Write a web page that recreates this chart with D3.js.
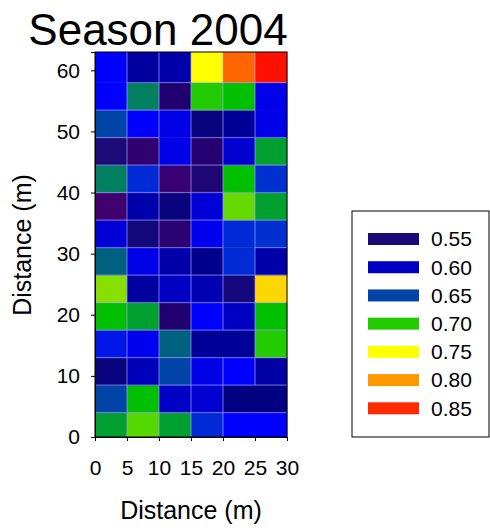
<!DOCTYPE html>
<html>
<head>
<meta charset="utf-8">
<script src="https://cdn.jsdelivr.net/npm/d3@7"></script>
<style>
  html, body { margin: 0; padding: 0; background: #fff; }
  svg { display: block; font-family: "Liberation Sans", Arial, sans-serif; }
</style>
</head>
<body>
<svg id="chart" width="490" height="530"></svg>
<script>
// ---- data ----
const title = "Season 2004";
const xLabel = "Distance (m)";
const yLabel = "Distance (m)";
const colEdges = [0, 5, 10, 15, 20, 25, 30];
const rowEdges = [0, 4, 8.5, 13, 17.5, 22, 26.5, 31, 35.5, 40, 44.5, 49, 53.5, 58, 63];
const xTicks = [0, 5, 10, 15, 20, 25, 30];
const yTicks = [0, 10, 20, 30, 40, 50, 60];
// cell values, one array per row, bottom row first, columns left to right
const row0  = [0.685, 0.715, 0.685, 0.638, 0.625, 0.625];
const row1  = [0.650, 0.695, 0.600, 0.605, 0.565, 0.565];
const row2  = [0.560, 0.595, 0.650, 0.615, 0.625, 0.582];
const row3  = [0.632, 0.618, 0.665, 0.575, 0.575, 0.700];
const row4  = [0.695, 0.685, 0.545, 0.625, 0.600, 0.695];
const row5  = [0.725, 0.580, 0.600, 0.590, 0.555, 0.770];
const row6  = [0.665, 0.615, 0.585, 0.570, 0.638, 0.585];
const row7  = [0.608, 0.555, 0.535, 0.618, 0.638, 0.640];
const row8  = [0.510, 0.585, 0.560, 0.608, 0.718, 0.685];
const row9  = [0.675, 0.638, 0.520, 0.548, 0.695, 0.640];
const row10 = [0.550, 0.530, 0.615, 0.540, 0.605, 0.685];
const row11 = [0.650, 0.625, 0.615, 0.560, 0.575, 0.615];
const row12 = [0.625, 0.675, 0.545, 0.700, 0.695, 0.615];
const row13 = [0.625, 0.580, 0.585, 0.750, 0.820, 0.870];
const rows = [row0, row1, row2, row3, row4, row5, row6, row7, row8, row9, row10, row11, row12, row13];
const legendValues = [0.55, 0.60, 0.65, 0.70, 0.75, 0.80, 0.85];
const legendLabels = ["0.55", "0.60", "0.65", "0.70", "0.75", "0.80", "0.85"];
// colour map stops
const colorStops = [0.51, 0.53, 0.545, 0.55, 0.565, 0.575, 0.60, 0.615, 0.625, 0.64, 0.65, 0.665, 0.675, 0.685, 0.695, 0.70, 0.715, 0.725, 0.75, 0.77, 0.80, 0.82, 0.85, 0.87];
const colorRange = ["#400070", "#300070", "#200070", "#1c0a78", "#000080", "#000098", "#0000c4", "#0000e8", "#0000ff", "#0030d0", "#0044a8", "#006080", "#008060", "#00a030", "#00c000", "#22cc00", "#55d800", "#88e000", "#ffff00", "#ffd700", "#ff9900", "#ff6600", "#ff2a00", "#ff1100"];

// ---- chart ----
const svg = d3.select("#chart");
const x = d3.scaleLinear().domain([0, 30]).range([95, 287]);
const y = d3.scaleLinear().domain([0, 63]).range([437, 52]);
const color = d3.scaleLinear().domain(colorStops).range(colorRange).clamp(true);

// cells
const cells = [];
rows.forEach((r, ri) => r.forEach((v, ci) => cells.push({ri, ci, v})));
svg.append("g").selectAll("rect").data(cells).join("rect")
  .attr("x", d => x(colEdges[d.ci]))
  .attr("y", d => y(rowEdges[d.ri + 1]))
  .attr("width", d => x(colEdges[d.ci + 1]) - x(colEdges[d.ci]) + 0.3)
  .attr("height", d => y(rowEdges[d.ri]) - y(rowEdges[d.ri + 1]) + 0.3)
  .attr("fill", d => color(d.v));

// borders between cells with different values
const segs = [];
rows.forEach((r, ri) => r.forEach((v, ci) => {
  if (ci < r.length - 1 && r[ci + 1] !== v)
    segs.push({x1: colEdges[ci + 1], x2: colEdges[ci + 1], y1: rowEdges[ri], y2: rowEdges[ri + 1]});
  if (ri < rows.length - 1 && rows[ri + 1][ci] !== v)
    segs.push({x1: colEdges[ci], x2: colEdges[ci + 1], y1: rowEdges[ri + 1], y2: rowEdges[ri + 1]});
}));
svg.append("g").selectAll("line").data(segs).join("line")
  .attr("x1", d => x(d.x1)).attr("x2", d => x(d.x2))
  .attr("y1", d => y(d.y1)).attr("y2", d => y(d.y2))
  .attr("stroke", "rgba(160,160,255,0.55)")
  .attr("stroke-width", 1.3);

// frame
svg.append("rect")
  .attr("x", x(0)).attr("y", y(63))
  .attr("width", x(30) - x(0)).attr("height", y(0) - y(63))
  .attr("fill", "none").attr("stroke", "#000").attr("stroke-width", 1);

// axes
const xAxis = svg.append("g").attr("transform", `translate(0,${y(0)})`)
  .call(d3.axisBottom(x).tickValues(xTicks).tickSize(4).tickPadding(19));
const yAxis = svg.append("g").attr("transform", `translate(${x(0)},0)`)
  .call(d3.axisLeft(y).tickValues(yTicks).tickSize(4).tickPadding(11));
[xAxis, yAxis].forEach(g => {
  g.selectAll("text").attr("font-size", 21).attr("font-family", "Liberation Sans, Arial, sans-serif").attr("fill", "#000");
  g.selectAll("line, path").attr("stroke", "#000");
});

// title and labels
svg.append("text").attr("x", 158).attr("y", 45)
  .attr("text-anchor", "middle").attr("font-size", 44).attr("fill", "#000").text(title);
svg.append("text").attr("x", 191).attr("y", 519)
  .attr("text-anchor", "middle").attr("font-size", 25).attr("fill", "#000").text(xLabel);
svg.append("text").attr("transform", "translate(31,245) rotate(-90)")
  .attr("text-anchor", "middle").attr("font-size", 25).attr("fill", "#000").text(yLabel);

// legend
const lg = svg.append("g");
lg.append("rect").attr("x", 352).attr("y", 211).attr("width", 137).attr("height", 226)
  .attr("fill", "#fff").attr("stroke", "#000").attr("stroke-width", 1);
const ly = d3.scalePoint().domain(legendLabels).range([239, 408.3]);
const items = lg.selectAll("g.item").data(legendValues).join("g").attr("class", "item")
  .attr("transform", (d, i) => `translate(0,${ly(legendLabels[i])})`);
items.append("rect").attr("x", 368).attr("y", -6).attr("width", 51).attr("height", 12)
  .attr("fill", d => color(d));
items.append("text").attr("x", 431).attr("y", 0).attr("dy", "0.35em")
  .attr("font-size", 21).attr("fill", "#000").text((d, i) => legendLabels[i]);
</script>
</body>
</html>
